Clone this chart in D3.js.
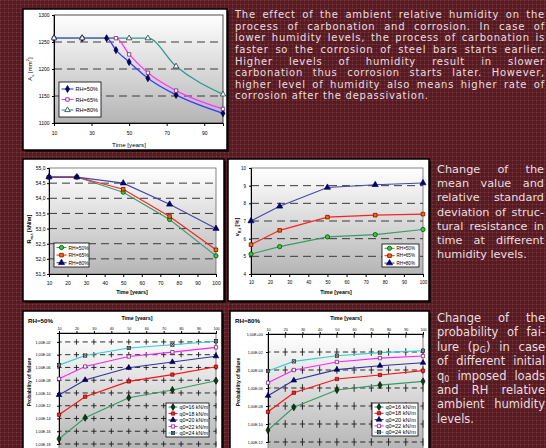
<!DOCTYPE html>
<html>
<head>
<meta charset="utf-8">
<script src="https://cdn.jsdelivr.net/npm/d3@7"></script>
<style>
  body { margin: 0; background: #581b23; }
  #wrap { position: relative; width: 546px; height: 448px; overflow: hidden; }
  svg { position: absolute; left: 0; top: 0; }
  .para { position: absolute; color: #e9dfe0; font-family: "DejaVu Sans", sans-serif; }
  .para div { text-align: justify; text-align-last: justify; }
  .para div.last { text-align-last: left; }
  sub { font-size: 0.7em; vertical-align: -0.25em; line-height: 0; }
</style>
</head>
<body>
<div id="wrap"></div>
<script>
// ---- data ----
// panel 1: reinforcement area As [mm2]
const yearsA50 = [10, 25, 38, 43, 50, 60, 75, 100];
const areaRH50 = [1257, 1257, 1257, 1235, 1213, 1183, 1152, 1118];
const yearsA65 = [10, 25, 43, 50, 60, 75, 100];
const areaRH65 = [1257, 1257, 1257, 1227, 1193, 1160, 1126];
const yearsA80 = [10, 25, 50, 60, 75, 100];
const areaRH80 = [1257, 1257, 1257, 1257, 1205, 1153];
const areaTicks = [1100, 1150, 1200, 1250, 1300];
const areaYearTicks = [10, 30, 50, 70, 90];

// panels 2-3: resistance mean and cov
const years = [10, 25, 50, 75, 100];
const yearTicks = [10, 20, 30, 40, 50, 60, 70, 80, 90, 100];
const resRH50 = [54.7, 54.7, 54.2, 53.3, 52.1];
const resRH65 = [54.7, 54.7, 54.3, 53.4, 52.3];
const resRH80 = [54.7, 54.7, 54.5, 53.8, 53.0];
const resTicks = [51.5, 52, 52.5, 53, 53.5, 54, 54.5, 55];
const covRH50 = [5.13, 5.55, 6.1, 6.23, 6.52];
const covRH65 = [5.66, 6.47, 7.22, 7.33, 7.39];
const covRH80 = [7.0, 7.83, 8.9, 9.05, 9.15];
const covTicks = [4, 5, 6, 7, 8, 9, 10];
const rhLabels = ['RH=50%', 'RH=65%', 'RH=80%'];

// panels 4-5: probability of failure
const loadLabels = ['q0=16 kN/m', 'q0=18 kN/m', 'q0=20 kN/m', 'q0=22 kN/m', 'q0=24 kN/m'];
const pf50q16 = [6.3e-18, 1.3e-14, 1.8e-11, 3.0e-10, 8.3e-9];
const pf50q18 = [3.9e-14, 2.6e-11, 6.5e-9, 7.6e-8, 1.3e-6];
const pf50q20 = [4.8e-11, 1.1e-8, 8.9e-7, 7.1e-6, 5.8e-5];
const pf50q22 = [1.7e-8, 1.4e-6, 5.1e-5, 2.5e-4, 1.4e-3];
const pf50q24 = [2.3e-6, 7.4e-5, 1.1e-3, 3.7e-3, 1.3e-2];
const pf80q16 = [2.1e-11, 7.1e-9, 6.0e-7, 2.1e-6, 5.5e-6];
const pf80q18 = [2.3e-9, 3.0e-7, 1.0e-5, 2.8e-5, 8.5e-5];
const pf80q20 = [1.4e-7, 7.1e-6, 1.1e-4, 3.0e-4, 6.5e-4];
const pf80q22 = [3.9e-6, 1.0e-4, 7.8e-4, 2.1e-3, 3.6e-3];
const pf80q24 = [7.8e-5, 9.1e-4, 3.9e-3, 8.5e-3, 1.4e-2];
const pfTicks50 = [1e-18, 1e-16, 1e-14, 1e-12, 1e-10, 1e-8, 1e-6, 1e-4, 1e-2];
const pfTicks80 = [1e-12, 1e-10, 1e-8, 1e-6, 1e-4, 1e-2, 1];

const FONT = '"Liberation Sans", Arial, sans-serif';
const W = 546, H = 448;

const svg = d3.select('#wrap').append('svg').attr('width', W).attr('height', H);
const defs = svg.append('defs');

// woven maroon background
const pat = defs.append('pattern').attr('id', 'bg')
  .attr('width', 4).attr('height', 4).attr('patternUnits', 'userSpaceOnUse');
pat.append('rect').attr('width', 4).attr('height', 4).attr('fill', '#561a22');
pat.append('rect').attr('width', 4).attr('height', 1).attr('fill', '#62242b');
pat.append('rect').attr('width', 1).attr('height', 4).attr('fill', '#62242b');
pat.append('rect').attr('width', 1).attr('height', 1).attr('fill', '#7a3c43');
svg.append('rect').attr('width', W).attr('height', H).attr('fill', 'url(#bg)');

const grad = defs.append('linearGradient').attr('id', 'plotFill')
  .attr('x1', 0).attr('y1', 0).attr('x2', 0).attr('y2', 1);
grad.append('stop').attr('offset', 0).attr('stop-color', '#ffffff');
grad.append('stop').attr('offset', 1).attr('stop-color', '#b5b5b5');

// white cards
const cards = [[23, 9, 204, 141], [23, 159, 201, 142], [228, 159, 201, 142], [23, 311, 199, 145], [230, 311, 199, 145]];
cards.forEach(([x, y, w, h]) => {
  svg.append('rect').attr('x', x + 2).attr('y', y + 2).attr('width', w).attr('height', h).attr('fill', '#220a0d');
  svg.append('rect').attr('x', x).attr('y', y).attr('width', w).attr('height', h)
    .attr('fill', '#fff').attr('stroke', '#000').attr('stroke-width', 1.5);
});

function marker(g, type, cx, cy, m) {
  const s = m.size || 4;
  if (type === 'xsquare') {
    g.append('rect').attr('x', cx - s / 2).attr('y', cy - s / 2).attr('width', s).attr('height', s)
      .attr('fill', m.fill).attr('stroke', m.stroke).attr('stroke-width', 0.7);
    g.append('path').attr('d', `M${cx - s / 2},${cy - s / 2}L${cx + s / 2},${cy + s / 2}M${cx + s / 2},${cy - s / 2}L${cx - s / 2},${cy + s / 2}`)
      .attr('stroke', m.stroke).attr('stroke-width', 0.7);
    return;
  }
  const sym = { diamond: d3.symbolDiamond, square: d3.symbolSquare, triangle: d3.symbolTriangle, circle: d3.symbolCircle }[type];
  g.append('path').attr('transform', `translate(${cx},${cy})`)
    .attr('d', d3.symbol(sym, s * s * (type === 'circle' ? 0.9 : 1))())
    .attr('fill', m.fill).attr('stroke', m.stroke).attr('stroke-width', 0.7);
}

function richText(g, x, y, parts, size, opts = {}) {
  const t = g.append('text').attr('x', x).attr('y', y).attr('font-size', size)
    .attr('text-anchor', opts.anchor || 'middle').attr('dominant-baseline', 'central')
    .attr('font-weight', opts.bold ? 'bold' : 'normal').attr('fill', '#000');
  if (opts.rotate) t.attr('transform', `rotate(-90,${x},${y})`);
  parts.forEach(p => {
    const ts = t.append('tspan').text(p.t);
    if (p.sub) ts.attr('baseline-shift', 'sub').attr('font-size', size * 0.7);
    if (p.sup) ts.attr('baseline-shift', 'super').attr('font-size', size * 0.7);
  });
  return t;
}

function drawChart(c) {
  const g = svg.append('g').attr('font-family', FONT);
  const x = d3.scaleLinear().domain([10, 100]).range([c.left, c.right]);
  const y = (c.log ? d3.scaleLog() : d3.scaleLinear()).domain(c.yDomain).range([c.yBottom, c.yTop]);
  const bottom = c.plotBottom || c.yBottom;

  g.append('rect')
    .attr('x', c.left).attr('y', c.yTop)
    .attr('width', c.right - c.left).attr('height', bottom - c.yTop)
    .attr('fill', 'url(#plotFill)')
    .attr('stroke', c.border || '#666').attr('stroke-width', 0.8);

  if (c.crossGrid) {
    // dashes centred on every crossing so the grid reads as little "+" marks
    const hp = (x(20) - x(10)) / 2;
    const vp = Math.abs(y(c.yTicks[1]) - y(c.yTicks[0]));
    g.selectAll('line.hg').data(c.yTicks.filter(d => y(d) > c.yTop + 1)).join('line')
      .attr('x1', c.left).attr('x2', c.right)
      .attr('y1', d => y(d)).attr('y2', d => y(d))
      .attr('stroke', '#1a1a1a').attr('stroke-width', 0.9)
      .attr('stroke-dasharray', `${hp * 0.6},${hp * 0.4}`)
      .attr('stroke-dashoffset', hp * 0.3);
    const s0 = y(c.yTicks[c.yTicks.length - 1]) - c.yTop;
    const dv = vp * 0.42;
    const off = (((dv / 2 - s0) % vp) + vp) % vp;
    g.selectAll('line.vg').data(yearTicks.slice(1)).join('line')
      .attr('x1', d => x(d)).attr('x2', d => x(d))
      .attr('y1', c.yTop).attr('y2', bottom)
      .attr('stroke', '#1a1a1a').attr('stroke-width', 0.9)
      .attr('stroke-dasharray', `${dv},${vp - dv}`)
      .attr('stroke-dashoffset', off);
  } else {
    g.selectAll('line.hg').data(c.yTicks.slice(1, -1)).join('line')
      .attr('x1', c.left).attr('x2', c.right)
      .attr('y1', d => y(d)).attr('y2', d => y(d))
      .attr('stroke', '#3a3a3a').attr('stroke-width', 1)
      .attr('stroke-dasharray', '8,5');
  }

  // axes
  const ya = g.append('g').attr('transform', `translate(${c.left},0)`)
    .call(d3.axisLeft(y).tickValues(c.yTicks).tickFormat(c.yFmt).tickSize(2).tickPadding(c.yPad));
  ya.selectAll('text').attr('font-size', c.tickFont).attr('font-family', FONT).attr('fill', '#000');
  ya.select('.domain').attr('stroke', '#000').attr('stroke-width', 1);

  const xa = g.append('g');
  if (c.topAxis) {
    xa.attr('transform', `translate(0,${c.yTop})`)
      .call(d3.axisTop(x).tickValues(c.xTicks).tickSize(2).tickPadding(1.5));
  } else {
    xa.attr('transform', `translate(0,${c.yBottom})`)
      .call(d3.axisBottom(x).tickValues(c.xTicks).tickSize(3).tickPadding(c.xPad || 4));
  }
  xa.selectAll('text').attr('font-size', c.tickFont).attr('font-family', FONT).attr('fill', '#000');
  xa.select('.domain').attr('stroke', '#000').attr('stroke-width', 1);

  // series
  const line = d3.line().x(d => x(d[0])).y(d => y(d[1])).curve(c.curve || d3.curveLinear);
  c.series.forEach(s => {
    const pts = s.x.map((v, i) => [v, s.y[i]]);
    g.append('path').datum(pts).attr('d', line)
      .attr('fill', 'none').attr('stroke', s.color).attr('stroke-width', c.lineWidth || 1.1);
  });
  c.series.forEach(s => {
    s.x.forEach((v, i) => marker(g, s.marker, x(v), y(s.y[i]), s));
  });

  // legend
  const L = c.legend;
  g.append('rect').attr('x', L.x).attr('y', L.y).attr('width', L.w).attr('height', L.h)
    .attr('fill', '#fff').attr('stroke', '#000').attr('stroke-width', 0.8);
  c.series.forEach((s, i) => {
    const cy = L.y + L.first + i * L.step;
    g.append('line').attr('x1', L.x + 2.5).attr('x2', L.x + 2.5 + L.len).attr('y1', cy).attr('y2', cy)
      .attr('stroke', s.color).attr('stroke-width', 1.1);
    marker(g, s.marker, L.x + 2.5 + L.len / 2, cy, s);
    g.append('text').attr('x', L.x + 4.5 + L.len).attr('y', cy).attr('dominant-baseline', 'central')
      .attr('font-size', L.font).attr('fill', '#000').text(s.label);
  });

  richText(g, c.xLabel[0], c.xLabel[1], [{ t: 'Time [years]' }], c.xLabelFont, { bold: c.xBold });
  richText(g, c.yLabel[0], c.yLabel[1], c.yLabelParts, c.yLabelFont, { rotate: true, bold: c.yBold });
  if (c.title) richText(g, c.title[0], c.title[1], [{ t: c.title[2] }], 6.2, { bold: true, anchor: 'start' });
}

const commaFmt = d => d3.format('.1f')(d).replace('.', ',');
const sciFmt = d => {
  const e = Math.round(Math.log10(d));
  return '1,00E' + (e < 0 ? '-' : '+') + String(Math.abs(e)).padStart(2, '0');
};

drawChart({
  left: 54, right: 223, yTop: 15, yBottom: 123, yDomain: [1100, 1300],
  yTicks: areaTicks, yFmt: d => d, yPad: 2.5, xTicks: areaYearTicks, tickFont: 5, xPad: 5,
  border: '#222', curve: d3.curveMonotoneX, lineWidth: 1.3,
  series: [
    { x: yearsA50, y: areaRH50, color: '#3b3bff', marker: 'diamond', fill: '#000066', stroke: '#000033', size: 3.8, label: rhLabels[0] },
    { x: yearsA65, y: areaRH65, color: '#ff38ff', marker: 'square', fill: '#fff', stroke: '#6a006a', size: 3.4, label: rhLabels[1] },
    { x: yearsA80, y: areaRH80, color: '#2c9a8c', marker: 'triangle', fill: '#fff', stroke: '#002a2a', size: 3.6, label: rhLabels[2] }
  ],
  legend: { x: 59, y: 82, w: 42, h: 35, first: 7, step: 10.5, len: 12, font: 5.6 },
  xLabel: [129, 144], xLabelFont: 6.2, xBold: false,
  yLabel: [30, 69], yLabelParts: [{ t: 'A' }, { t: 's', sub: true }, { t: ' [mm' }, { t: '2', sup: true }, { t: ']' }], yLabelFont: 6
});

drawChart({
  left: 49, right: 216, yTop: 168, yBottom: 274, yDomain: [51.5, 55],
  yTicks: resTicks, yFmt: commaFmt, yPad: 1.5, xTicks: yearTicks, tickFont: 5,
  series: [
    { x: years, y: resRH50, color: '#3a9a6a', marker: 'circle', fill: '#33cc33', stroke: '#003300', size: 4, label: rhLabels[0] },
    { x: years, y: resRH65, color: '#ff2020', marker: 'square', fill: '#ff6a00', stroke: '#5a0000', size: 3.6, label: rhLabels[1] },
    { x: years, y: resRH80, color: '#4646a8', marker: 'triangle', fill: '#000080', stroke: '#000040', size: 4, label: rhLabels[2] }
  ],
  legend: { x: 54, y: 243, w: 35, h: 24, first: 4.5, step: 7.6, len: 10, font: 5 },
  xLabel: [132, 292], xLabelFont: 5.4, xBold: true,
  yLabel: [29, 229], yLabelParts: [{ t: 'R' }, { t: 'm,t', sub: true }, { t: ' [kN/m]' }], yLabelFont: 5.6, yBold: true
});

drawChart({
  left: 251, right: 423, yTop: 168, yBottom: 274, yDomain: [4, 10],
  yTicks: covTicks, yFmt: d => d, yPad: 3, xTicks: yearTicks, tickFont: 4.5,
  series: [
    { x: years, y: covRH50, color: '#3a9a6a', marker: 'circle', fill: '#33cc33', stroke: '#003300', size: 4, label: rhLabels[0] },
    { x: years, y: covRH65, color: '#ff2020', marker: 'square', fill: '#ff6a00', stroke: '#5a0000', size: 3.6, label: rhLabels[1] },
    { x: years, y: covRH80, color: '#4646a8', marker: 'triangle', fill: '#000080', stroke: '#000040', size: 4, label: rhLabels[2] }
  ],
  legend: { x: 382, y: 244, w: 37, h: 23, first: 4.3, step: 7.4, len: 10, font: 4.6 },
  xLabel: [336, 292], xLabelFont: 5.4, xBold: true,
  yLabel: [237, 227], yLabelParts: [{ t: 'v' }, { t: 'R,t', sub: true }, { t: ' [%]' }], yLabelFont: 5.6, yBold: true
});

const loadStyles = [
  { color: '#339966', marker: 'diamond', fill: '#0b3a1e', stroke: '#001a00', size: 3.8 },
  { color: '#ff1010', marker: 'square', fill: '#ff2020', stroke: '#700000', size: 3.3 },
  { color: '#333399', marker: 'triangle', fill: '#000080', stroke: '#000030', size: 3.6 },
  { color: '#ff22ff', marker: 'square', fill: '#fff', stroke: '#700070', size: 3.3 },
  { color: '#33cccc', marker: 'xsquare', fill: '#fff', stroke: '#111', size: 3.2 }
];

drawChart({
  left: 59, right: 216, yTop: 333, yBottom: 444, plotBottom: 450, log: true, yDomain: [1e-18, Math.pow(10, -0.6)],
  yTicks: pfTicks50, yFmt: sciFmt, yPad: 6.5, xTicks: yearTicks, tickFont: 3.7, topAxis: true, crossGrid: true,
  series: [pf50q16, pf50q18, pf50q20, pf50q22, pf50q24].map((v, i) => Object.assign({ x: years, y: v, label: loadLabels[i] }, loadStyles[i])),
  legend: { x: 166, y: 403, w: 43, h: 34, first: 4, step: 6.5, len: 9, font: 5.3 },
  xLabel: [137, 318], xLabelFont: 5.3, xBold: true,
  yLabel: [29, 382], yLabelParts: [{ t: 'Probability of failure' }], yLabelFont: 5, yBold: true,
  title: [28, 320, 'RH=50%']
});

drawChart({
  left: 268, right: 423, yTop: 334, yBottom: 442, plotBottom: 450, log: true, yDomain: [1e-12, 1],
  yTicks: pfTicks80, yFmt: sciFmt, yPad: 3.3, xTicks: yearTicks, tickFont: 3.7, topAxis: true, crossGrid: true,
  series: [pf80q16, pf80q18, pf80q20, pf80q22, pf80q24].map((v, i) => Object.assign({ x: years, y: v, label: loadLabels[i] }, loadStyles[i])),
  legend: { x: 372, y: 403, w: 46, h: 33, first: 4, step: 6.3, len: 9, font: 5.6 },
  xLabel: [346, 318], xLabelFont: 5.4, xBold: true,
  yLabel: [238, 382], yLabelParts: [{ t: 'Probability of failure' }], yLabelFont: 5, yBold: true,
  title: [235, 320, 'RH=80%']
});

// ---- paragraphs ----
function para(x, y, w, size, lh, ls, lines) {
  const d = d3.select('#wrap').append('div').attr('class', 'para')
    .style('left', x + 'px').style('top', y + 'px').style('width', w + 'px')
    .style('font-size', size + 'px').style('line-height', lh + 'px')
    .style('letter-spacing', ls + 'px');
  lines.forEach((l, i) => d.append('div').classed('last', i === lines.length - 1).html(l));
}

para(235, 9.2, 310, 10, 11.6, 0.75, [
  'The effect of the ambient relative humidity on the',
  'process of carbonation and corrosion. In case of',
  'lower humidity levels, the process of carbonation is',
  'faster so the corrosion of steel bars starts earlier.',
  'Higher levels of humidity result in slower',
  'carbonation thus corrosion starts later. However,',
  'higher level of humidity also means higher rate of',
  'corrosion after the depassivation.'
]);

para(437, 163, 107, 11.3, 14.2, 0, [
  'Change of the',
  'mean value and',
  'relative standard',
  'deviation of struc-',
  'tural resistance in',
  'time at different',
  'humidity levels.'
]);

para(437, 311, 108, 11.5, 14.4, 0, [
  'Change of the',
  'probability of fai-',
  'lure (p<sub>G</sub>) in case',
  'of different initial',
  'q<sub>0</sub> imposed loads',
  'and RH relative',
  'ambient humidity',
  'levels.'
]);
</script>
</body>
</html>
